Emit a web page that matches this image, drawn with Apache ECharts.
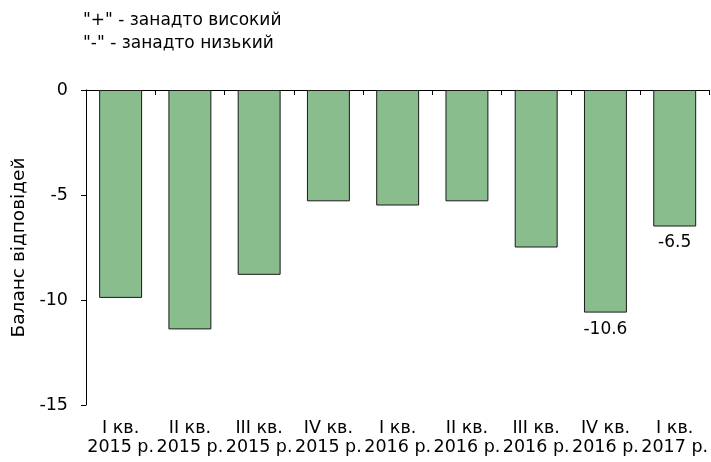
<!DOCTYPE html>
<html>
<head>
<meta charset="utf-8">
<script src="https://cdn.jsdelivr.net/npm/echarts@6/dist/echarts.min.js"></script>
<style>
html,body{margin:0;padding:0;background:#fff;}
#chart{width:711px;height:462px;}
</style>
</head>
<body>
<div id="chart"></div>
<script>
const categories = ['I кв.\n2015 р.', 'II кв.\n2015 р.', 'III кв.\n2015 р.', 'IV кв.\n2015 р.', 'I кв.\n2016 р.', 'II кв.\n2016 р.', 'III кв.\n2016 р.', 'IV кв.\n2016 р.', 'I кв.\n2017 р.'];
const values = [-9.9, -11.4, -8.8, -5.3, -5.5, -5.3, -7.5, -10.6, -6.5];
const labelledIndices = [7, 8];
const yTicks = { min: -15, max: 0, interval: 5 };
const noteLines = ['"+" - занадто високий', '"-" - занадто низький'];
const yAxisName = 'Баланс відповідей';

const FONT = 'DejaVu Sans';
const chart = echarts.init(document.getElementById('chart'), null, { renderer: 'canvas' });

const seriesData = values.map((v, i) => ({
  value: v,
  label: { show: labelledIndices.indexOf(i) >= 0 }
}));

chart.setOption({
  animation: false,
  backgroundColor: '#ffffff',
  title: {
    text: noteLines.join('\n'),
    left: 83,
    top: 9,
    padding: 0,
    textStyle: { fontFamily: FONT, fontSize: 17, fontWeight: 'normal', color: '#000', lineHeight: 23 }
  },
  grid: { left: 86, right: 0, top: 90, bottom: 57, containLabel: false },
  xAxis: [
    {
      type: 'category',
      data: categories,
      position: 'bottom',
      axisLine: { show: false },
      axisTick: { show: false },
      axisLabel: { interval: 0, margin: 14, fontFamily: FONT, fontSize: 17.5, color: '#000', lineHeight: 19 }
    },
    {
      type: 'category',
      data: categories,
      position: 'top',
      axisLine: { show: true, onZero: false, lineStyle: { color: '#000', width: 1 } },
      axisTick: { show: true, inside: true, length: 5, interval: 0, lineStyle: { color: '#000' } },
      axisLabel: { show: false }
    }
  ],
  yAxis: {
    type: 'value',
    min: yTicks.min,
    max: yTicks.max,
    interval: yTicks.interval,
    name: yAxisName,
    nameLocation: 'middle',
    nameGap: 57,
    nameRotate: 90,
    nameTextStyle: { fontFamily: FONT, fontSize: 18.5, color: '#000' },
    axisLine: { show: true, lineStyle: { color: '#000', width: 1 } },
    axisTick: { show: true, inside: false, length: 5, lineStyle: { color: '#000' } },
    axisLabel: { margin: 18, fontFamily: FONT, fontSize: 17.5, color: '#000' },
    splitLine: { show: false }
  },
  series: [{
    type: 'bar',
    xAxisIndex: 0,
    data: seriesData,
    barCategoryGap: '38%',
    itemStyle: { color: '#8abd8d', borderColor: '#1a1a1a', borderWidth: 1 },
    label: {
      position: 'outside',
      distance: 8,
      fontFamily: FONT,
      fontSize: 17,
      color: '#000',
      formatter: p => p.value.toFixed(1)
    }
  }]
});
</script>
</body>
</html>
